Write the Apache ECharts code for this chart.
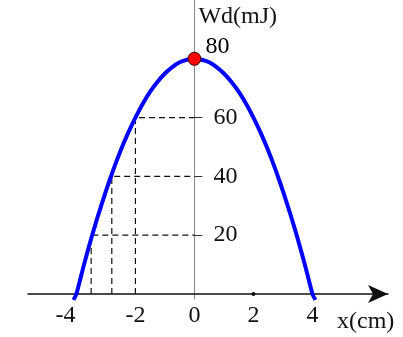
<!DOCTYPE html>
<html><head><meta charset="utf-8">
<script src="https://cdn.jsdelivr.net/npm/echarts@6/dist/echarts.min.js"></script>
<style>html,body{margin:0;padding:0;background:#fff}#c{width:403px;height:337px}</style>
</head><body><div id="c"></div>
<script>
// Curve readings (x in cm, Wd in mJ)
const curveX = [-4.1, -4, -3.75, -3.5, -3.25, -3, -2.75, -2.5, -2.25, -2, -1.75, -1.5, -1.25, -1, -0.75, -0.5, -0.25, 0,
  0.25, 0.5, 0.75, 1, 1.25, 1.5, 1.75, 2, 2.25, 2.5, 2.75, 3, 3.25, 3.5, 3.75, 4, 4.1];
const curveY = [-2, 0, 9.7, 18.8, 27.2, 35, 42.2, 48.8, 54.7, 60, 64.7, 68.8, 72.2, 75, 77.2, 78.8, 79.7, 80,
  79.7, 78.8, 77.2, 75, 72.2, 68.8, 64.7, 60, 54.7, 48.8, 42.2, 35, 27.2, 18.8, 9.7, 0, -2];
// Guide points
const guideX = [-2, -2.8, -3.5];
const guideY = [60, 40, 20];
const xTickLabels = [-4, -2, 0, 2, 4];
const yTickLabels = [20, 40, 60];
const peak = [0, 80];

const font = 'Liberation Serif';
const fs = 24;
const G = { left: 28, right: 15, top: 0, bottom: 38 };
const W = 403, H = 337;
const xMin = -5.64, xMax = 6.56, yMin = -1.7, yMax = 100;
// pixel offsets to bring the axes onto the zero lines
const yAxisShift = -(0 - xMin) / (xMax - xMin) * (W - G.left - G.right);
const xAxisShift = -(0 - yMin) / (yMax - yMin) * (H - G.top - G.bottom);

const series = [];
series.push({
  type: 'line', data: curveX.map((x, i) => [x, curveY[i]]), smooth: 0.2, showSymbol: false,
  lineStyle: { color: '#0000ff', width: 4 }, z: 3, silent: true
});
guideX.forEach((gx, i) => {
  series.push({
    type: 'line', data: [[gx, 0], [gx, guideY[i]], [0, guideY[i]]], showSymbol: false,
    lineStyle: { color: '#111', width: 1.2, type: [6, 4] }, z: 2, silent: true
  });
});
series.push({
  type: 'scatter', data: [peak], symbolSize: 13,
  itemStyle: { color: '#ff0000', borderColor: '#330000', borderWidth: 1, opacity: 1 }, z: 5,
  label: { show: true, position: 'right', distance: 4, formatter: () => String(peak[1]), offset: [0, -12],
    fontFamily: font, fontSize: fs, color: '#000', opacity: 1 }
});
series.push({
  type: 'scatter', data: [[2, 0]], symbolSize: 4, itemStyle: { color: '#111', opacity: 1 }, z: 4
});

const chart = echarts.init(document.getElementById('c'), null, { renderer: 'canvas' });
chart.setOption({
  animation: false,
  grid: Object.assign({ containLabel: false, outerBoundsMode: 'none' }, G),
  xAxis: {
    type: 'value', min: xMin, max: xMax, position: 'bottom', offset: xAxisShift,
    axisLine: { onZero: false, lineStyle: { color: '#111', width: 1.5 }, symbol: ['none', 'arrow'], symbolSize: [13.5, 20] },
    axisTick: { show: false },
    splitLine: { show: false },
    axisLabel: {
      customValues: xTickLabels, margin: 10, fontFamily: font, fontSize: fs, color: '#111',
      formatter: v => v === -4 ? '{s|-4}' : String(v),
      rich: { s: { fontFamily: font, fontSize: fs, color: '#111', padding: [0, 22, 0, 0] } }
    },
    name: 'x(cm)', nameLocation: 'end', nameGap: -51,
    nameTextStyle: { fontFamily: font, fontSize: fs, color: '#111', align: 'left', verticalAlign: 'top', padding: [16, 0, 0, 0] }
  },
  yAxis: {
    type: 'value', min: yMin, max: yMax, position: 'left', offset: yAxisShift,
    axisLine: { onZero: false, lineStyle: { color: '#888', width: 1 } },
    axisTick: { show: true, inside: true, length: 8, customValues: yTickLabels, lineStyle: { color: '#333' } },
    splitLine: { show: false },
    axisLabel: { customValues: yTickLabels, inside: true, margin: 19, fontFamily: font, fontSize: fs, color: '#111', padding: [0, 0, 6, 0] },
    name: 'Wd(mJ)', nameLocation: 'end', nameGap: -17,
    nameTextStyle: { fontFamily: font, fontSize: fs, color: '#111', align: 'left', verticalAlign: 'middle', padding: [0, 0, 0, 4] }
  },
  series: series
});
</script></body></html>
